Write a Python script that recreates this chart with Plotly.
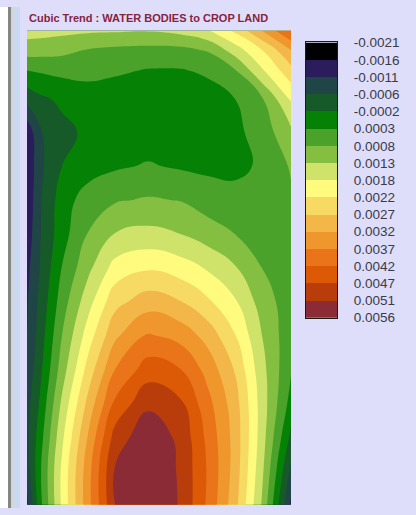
import numpy as np
import plotly.graph_objects as go

# ---------------- data ----------------
title_text = "Cubic Trend : WATER BODIES to CROP LAND"

# class boundaries shown in the legend (min ... max)
legend_labels = ["-0.0021", "-0.0016", "-0.0011", "-0.0006", "-0.0002", "0.0003",
                 "0.0008", "0.0013", "0.0018", "0.0022", "0.0027", "0.0032",
                 "0.0037", "0.0042", "0.0047", "0.0051", "0.0056"]

# one colour per class (16 classes)
class_colors = ["#000000", "#2b1d5c", "#1f4547", "#155a28", "#058205", "#4ba22a",
                "#84bf42", "#cfe36a", "#fffb7f", "#f7da63", "#f2b748", "#ef962c",
                "#e9741a", "#dc5a05", "#b83d0a", "#8b2b36"]

# contour levels (class boundaries between classes)
level_start = -0.0016
level_end = 0.00512
level_step = 0.00048

# sample grid of the trend surface (easting / southing in map units)
grid_x = [0, 13, 35, 61, 88, 121, 154, 181, 208, 235, 264]
grid_y = [0, 19, 39, 68, 101, 135, 169, 203, 237, 270, 304, 338, 372, 406, 439, 473]

# trend values, in units of 1e-4, rows top -> bottom
trend_e4 = [
    [14.7, 14.5, 14.0, 13.5, 13.3, 13.0, 14.2, 17.1, 23.4, 32.0, 42.1],
    [10.4, 10.2, 9.4, 7.8, 7.0, 6.6, 6.8, 8.5, 15.2, 22.4, 32.0],
    [3.4, 3.9, 4.6, 4.9, 3.9, 3.0, 3.0, 3.9, 7.8, 17.1, 25.8],
    [-5.0, -2.6, -0.6, 0.6, 0.8, 0.8, 1.0, 1.5, 3.2, 7.5, 18.1],
    [-14.6, -6.9, -3.0, -0.6, 0.3, 0.8, 1.0, 1.3, 2.0, 5.4, 11.8],
    [-15.5, -7.4, -1.6, 0.8, 2.5, 3.6, 2.6, 2.2, 2.0, 3.9, 8.5],
    [-15.0, -6.9, 0.8, 5.6, 7.5, 8.5, 7.8, 5.6, 4.9, 4.2, 7.3],
    [-14.1, -6.7, 1.3, 8.2, 13.0, 14.2, 12.8, 10.4, 8.0, 6.1, 6.1],
    [-12.6, -6.2, 3.4, 11.6, 19.5, 21.9, 20.0, 17.1, 13.3, 8.0, 5.6],
    [-11.7, -5.3, 5.6, 15.6, 25.5, 29.6, 27.2, 23.1, 18.1, 10.6, 5.1],
    [-11.2, -4.2, 8.0, 19.9, 31.0, 37.3, 35.0, 30.1, 22.6, 12.8, 4.6],
    [-9.8, -2.8, 10.4, 24.2, 36.8, 44.0, 41.6, 35.0, 26.8, 14.4, 3.6],
    [-8.3, -1.0, 13.8, 28.6, 42.6, 50.2, 47.2, 38.3, 29.4, 15.3, 1.4],
    [-7.8, 1.0, 16.6, 32.4, 48.5, 54.6, 50.0, 40.2, 30.2, 15.0, -2.8],
    [-8.8, 2.4, 18.6, 34.8, 51.7, 55.8, 50.4, 41.0, 30.0, 13.9, -7.6],
    [-12.6, 1.6, 18.6, 35.0, 51.2, 55.5, 50.7, 40.6, 29.0, 12.3, -12.2],
]

# ---------------- figure ----------------
W, H = 416, 515
z = np.array(trend_e4) * 1e-4
n = len(class_colors)

scale = []
for k, c in enumerate(class_colors):
    lo = max(0.0, (k - 0.5) / (n - 1))
    hi = min(1.0, (k + 0.5) / (n - 1))
    scale.append([lo, c])
    scale.append([hi, c])

fig = go.Figure()
fig.add_trace(go.Contour(
    x=grid_x, y=grid_y, z=z,
    autocontour=False,
    contours=dict(start=level_start, end=level_end, size=level_step,
                  coloring="fill", showlines=False),
    line=dict(width=0, smoothing=1.3),
    colorscale=scale, showscale=False, hoverinfo="skip",
    xaxis="x", yaxis="y",
))

fig.add_trace(go.Heatmap(
    z=[[k] for k in range(n)], x=[0], y=list(range(n)),
    colorscale=scale, zmin=0, zmax=n - 1, showscale=False,
    hoverinfo="skip", xaxis="x2", yaxis="y2",
))

# the page is photographed with a slight vertical offset/compression;
# place items so that they land at the intended screen rows
OFF, SC = 7.2, 0.971


def px(v):
    return v / W


def py(v):
    fy = (v - OFF) / SC
    return min(1.0, max(0.0, 1 - fy / H))


lav = "#dedefa"
fig.update_layout(
    width=W, height=H, autosize=False,
    margin=dict(l=0, r=0, t=0, b=0),
    paper_bgcolor=lav, plot_bgcolor=lav,
    showlegend=False,
    xaxis=dict(domain=[px(27), px(291)], range=[0, 264], visible=False, fixedrange=True),
    yaxis=dict(domain=[py(504), py(31)], range=[473, 0], visible=False, fixedrange=True),
    xaxis2=dict(domain=[px(306), px(337)], range=[-0.5, 0.5], anchor="y2",
                showticklabels=False, ticks="", showgrid=False, zeroline=False,
                showline=True, mirror=True, linecolor="#1a1a1a", linewidth=1),
    yaxis2=dict(domain=[py(317.5), py(42.5)], range=[n - 0.5 + 0.02, -0.5 - 0.02],
                anchor="x2", side="right",
                tickmode="array", tickvals=[k - 0.5 for k in range(len(legend_labels))],
                ticktext=legend_labels, ticks="", ticklabelstandoff=13,
                showgrid=False, zeroline=False,
                showline=True, mirror=True, linecolor="#1a1a1a", linewidth=1,
                tickfont=dict(family="Liberation Sans, Arial, sans-serif", size=13.5,
                              color="#3a3a48")),
    annotations=[dict(
        text="<b>" + title_text + "</b>", x=px(27), y=py(18), xref="paper", yref="paper",
        xanchor="left", yanchor="middle", showarrow=False,
        font=dict(family="Liberation Sans, Arial, sans-serif", size=11, color="#862341"),
    )],
    shapes=[
        dict(type="rect", xref="paper", yref="paper", x0=0, x1=px(8), y0=0, y1=1,
             fillcolor="#ffffff", line_width=0, layer="below"),
        dict(type="rect", xref="paper", yref="paper", x0=px(8), x1=px(11), y0=0, y1=1,
             fillcolor="#858585", line_width=0, layer="below"),
        dict(type="rect", xref="paper", yref="paper", x0=px(11), x1=px(13), y0=0, y1=1,
             fillcolor="#d4d4d4", line_width=0, layer="below"),
        dict(type="rect", xref="paper", yref="paper", x0=px(13), x1=px(20), y0=0, y1=1,
             fillcolor="#c9d9ef", line_width=0, layer="below"),
    ],
)

page_fix = (
    "var s=document.createElement('style');"
    "s.textContent='html,body{margin:0!important;padding:0!important;overflow:hidden!important;"
    "width:416px;height:515px;"
    "background:linear-gradient(to bottom,#ffffff 0,#ffffff 50%,#c6d6ee 50%,#c6d6ee 100%)!important;}';"
    "document.head.appendChild(s);"
)
fig.write_html("out.html", post_script=page_fix,
               config={"displayModeBar": False, "responsive": False, "staticPlot": True})
